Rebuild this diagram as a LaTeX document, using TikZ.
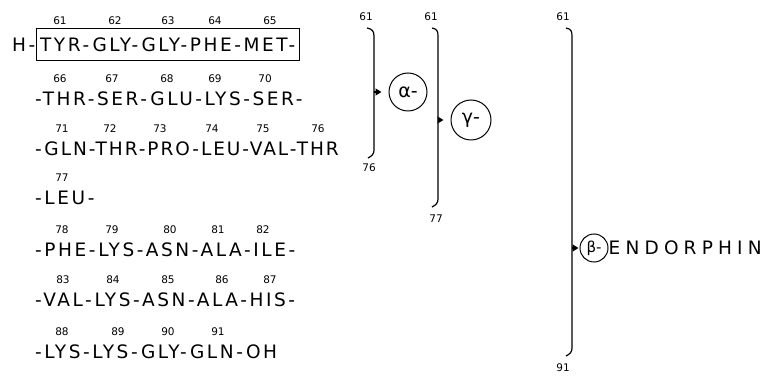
\documentclass[tikz,border=0pt]{standalone}
\usepackage{fontspec}
\setmainfont{DejaVu Sans}
\newfontfamily\seqfont[LetterSpace=14]{DejaVu Sans}
\newfontfamily\namefont[LetterSpace=28]{DejaVu Sans}
\usetikzlibrary{arrows.meta}

\begin{document}
\begin{tikzpicture}[x=1pt, y=-1pt,
  seq/.style={font=\seqfont\fontsize{18.5}{20}\selectfont, anchor=west, inner sep=0pt},
  num/.style={font=\fontsize{10.5}{12}\selectfont, inner sep=0pt},
  brace/.style={line width=1.2pt},
  tag/.style={draw, circle, line width=1pt, inner sep=0pt, font=\fontsize{19}{21}\selectfont},
  tip/.style={-{Triangle[length=6pt, width=7pt]}, line width=1.2pt}
    ]
    \useasboundingbox (0,0) rectangle (761,379);

    % Sequenza
    \node[seq] (h) at (12,45) {H-};
    \node[seq, draw, line width=1pt, inner xsep=4pt, minimum height=32pt] (enkephalin) at (h.east) {TYR-GLY-GLY-PHE-MET-};
    \foreach \n/\x in {61/60, 62/115, 63/168, 64/215, 65/270}
      \node[num] at (\x,21) {\n};

    \node[seq] (row2) at (35,99) {-THR-SER-GLU-LYS-SER-};
    \foreach \n/\x in {66/60, 67/112, 68/167, 69/215, 70/265}
      \node[num] at (\x,79) {\n};

    \node[seq, font=\seqfont\fontsize{18.5}{20}\selectfont\addfontfeature{LetterSpace=10.5}] (row3) at (35,149) {-GLN-THR-PRO-LEU-VAL-THR};
    \foreach \n/\x in {71/62, 72/110, 73/160, 74/212, 75/263, 76/318}
      \node[num] at (\x,129) {\n};

    \node[seq] (row4) at (35,198) {-LEU-};
    \node[num] at (62,178) {77};

    \node[seq] (row5) at (35,250) {-PHE-LYS-ASN-ALA-ILE-};
    \foreach \n/\x in {78/62, 79/112, 80/170, 81/218, 82/263}
      \node[num] at (\x,230) {\n};

    \node[seq] (row6) at (35,300) {-VAL-LYS-ASN-ALA-HIS-};
    \foreach \n/\x in {83/63, 84/113, 85/168, 86/222, 87/270}
      \node[num] at (\x,280) {\n};

    \node[seq] (row7) at (35,352) {-LYS-LYS-GLY-GLN-OH};
    \foreach \n/\x in {88/62, 89/118, 90/168, 91/218}
      \node[num] at (\x,332) {\n};

    % Parentesi alpha
    \draw[brace] (367,28) .. controls (372,29) and (374,31) .. (374,36) -- (374,150)
      .. controls (374,154) and (372,156) .. (368,158);
    \node[num] at (366,17) {61};
    \node[num] at (369,168) {76};
    \coordinate (amid) at (374,92);
    \node[tag, minimum size=38pt] (alpha) at (408,92) {α-};
    \draw[tip, shorten >=7pt] (amid) -- (alpha);

    % Parentesi gamma
    \draw[brace] (432,28) .. controls (437,29) and (438,31) .. (438,36) -- (438,199)
      .. controls (438,203) and (436,205) .. (432,207);
    \node[num] at (431,17) {61};
    \node[num] at (436,219) {77};
    \coordinate (gmid) at (438,120);
    \node[tag, minimum size=40pt] (gamma) at (471,120) {γ-};
    \draw[tip, shorten >=7pt] (gmid) -- (gamma);

    % Parentesi beta
    \draw[brace] (566,28) .. controls (571,29) and (572,31) .. (572,36) -- (572,348)
      .. controls (572,352) and (570,354) .. (566,356);
    \node[num] at (563,17) {61};
    \node[num] at (563,368) {91};
    \coordinate (bmid) at (572,248);
    \node[tag, minimum size=28pt, font=\fontsize{15}{17}\selectfont] (beta) at (594,248) {β-};
    \draw[tip, shorten >=1pt] (bmid) -- (beta);
    \node[seq, font=\namefont\fontsize{18.5}{20}\selectfont] (endorphin) at (beta.east) {ENDORPHIN};
\end{tikzpicture}
\end{document}
